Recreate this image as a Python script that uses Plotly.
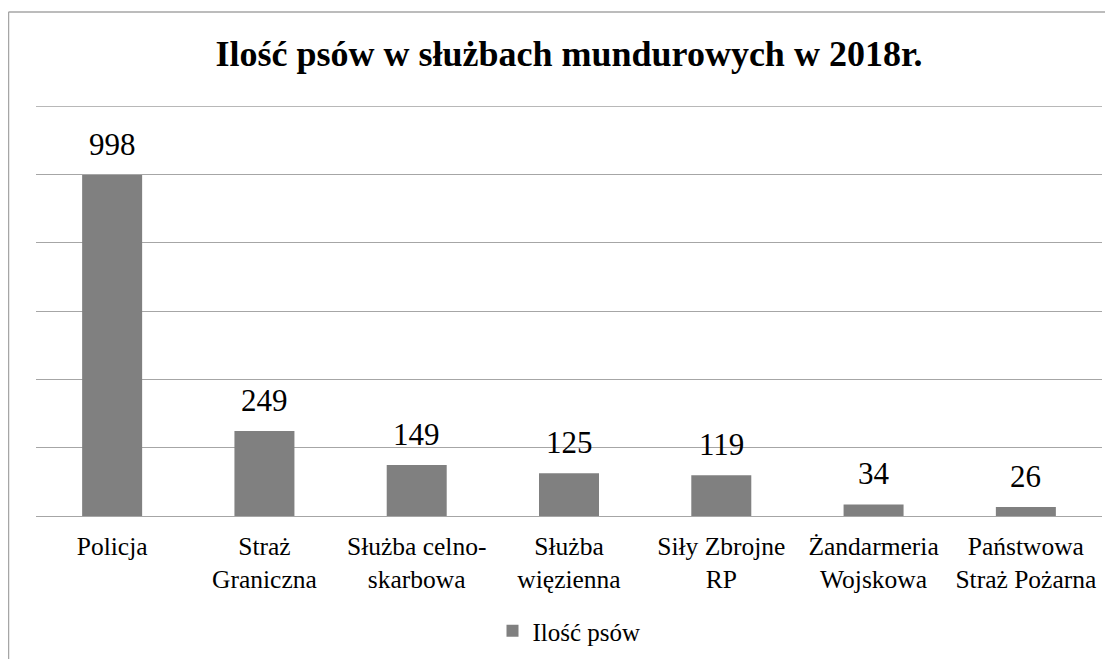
import plotly.graph_objects as go

categories = ["Policja", "Straż<br>Graniczna", "Służba celno-<br>skarbowa", "Służba<br>więzienna",
              "Siły Zbrojne<br>RP", "Żandarmeria<br>Wojskowa", "Państwowa<br>Straż Pożarna"]
values = [998, 249, 149, 125, 119, 34, 26]
series_name = "Ilość psów"
title = "Ilość psów w służbach mundurowych w 2018r."
y_max = 1200

FONT = "Liberation Serif"
# the page body has an 8px margin, so the figure is 8px smaller than the window
W, H = 1105, 651
L, R, T, B = 28, 11, 98, 143
pw, ph = W - L - R, H - T - B

fig = go.Figure(go.Bar(
    x=categories, y=values, name=series_name,
    marker=dict(color="#808080", line=dict(width=0)),
))

# value labels above the bars
for c, v in zip(categories, values):
    fig.add_annotation(x=c, y=v, xref="x", yref="y", text=str(v), showarrow=False,
                       yanchor="bottom", yshift=11,
                       font=dict(family=FONT, size=31, color="#000000"))

# top gridline (at the axis maximum)
fig.add_shape(type="line", xref="paper", yref="y", x0=0, x1=1, y0=y_max, y1=y_max,
              line=dict(color="#a0a0a0", width=1.6), layer="below")

bx = (0.5 - L) / pw
ty = 1 + (T - 4) / ph
fig.add_shape(type="line", xref="paper", yref="paper", x0=bx, x1=bx, y0=-2, y1=ty,
              line=dict(color="#a6a6a6", width=1.5))
fig.add_shape(type="line", xref="paper", yref="paper", x0=bx, x1=1.2, y0=ty, y1=ty,
              line=dict(color="#a6a6a6", width=1.5))

fig.update_layout(
    width=W, height=H,
    margin=dict(l=L, r=R, t=T, b=B, autoexpand=False),
    paper_bgcolor="white", plot_bgcolor="white",
    font=dict(family=FONT, color="#000000"),
    bargap=0.606,
    title=dict(text="<b>" + title + "</b>", x=0.5, xref="paper", xanchor="center",
               y=1 - 45 / H, yanchor="middle",
               font=dict(family=FONT, size=36, color="#000000")),
    showlegend=True,
    legend=dict(orientation="h", x=0.5, xanchor="center", y=(508 - 623) / ph, yanchor="middle",
                font=dict(family=FONT, size=25, color="#000000"), itemwidth=30),
    xaxis=dict(showline=True, linecolor="#a6a6a6", linewidth=1, ticks="",
               tickfont=dict(family=FONT, size=25.5, color="#000000"), showgrid=False,
               ticklabelstandoff=7),
    yaxis=dict(range=[0, y_max], dtick=200, showticklabels=False, showgrid=True,
               gridcolor="#a6a6a6", gridwidth=1, zeroline=False, fixedrange=True),
)

fig.write_html("out.html")
